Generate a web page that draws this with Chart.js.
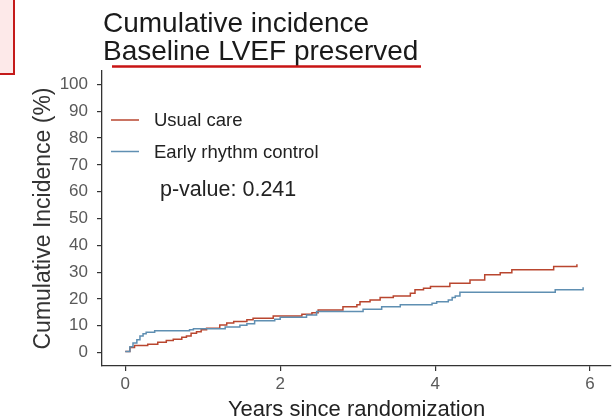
<!DOCTYPE html>
<html>
<head>
<meta charset="utf-8">
<script src="https://cdn.jsdelivr.net/npm/chart.js@4/dist/chart.umd.min.js"></script>
<style>
  html, body { margin: 0; padding: 0; background: #ffffff; }
  #wrap { position: relative; width: 616px; height: 419px; }
</style>
</head>
<body>
<div id="wrap"><canvas id="c" width="616" height="419"></canvas></div>
<script>
// ---- Data ----
const titleLines = ["Cumulative incidence", "Baseline LVEF preserved"];
const seriesNames = ["Usual care", "Early rhythm control"];
const pValueText = "p-value: 0.241";
const xTitle = "Years since randomization";
const yTitle = "Cumulative Incidence (%)";
const xTickValues = [0, 2, 4, 6];
const yTickValues = [0, 10, 20, 30, 40, 50, 60, 70, 80, 90, 100];

// Usual care (step curve: time in years, cumulative incidence %)
const usualCareYears = [0, 0.06, 0.12, 0.29, 0.42, 0.53, 0.62, 0.73, 0.79, 0.85, 0.92, 0.98, 1.05, 1.22, 1.31, 1.40, 1.57, 1.65, 1.91, 2.28, 2.41, 2.49, 2.81, 2.99, 3.03, 3.16, 3.29, 3.46, 3.68, 3.74, 3.85, 3.94, 4.19, 4.45, 4.64, 4.84, 4.99, 5.53, 5.83];
const usualCareValues = [0.4, 1.9, 2.6, 3.1, 3.9, 4.5, 5.0, 5.7, 6.2, 7.2, 7.8, 8.5, 9.1, 10.3, 11.0, 11.6, 12.2, 12.8, 13.6, 14.3, 14.9, 15.9, 17.1, 17.8, 19.0, 19.6, 20.5, 21.1, 22.1, 23.4, 24.0, 24.6, 25.9, 27.1, 29.0, 29.8, 30.9, 32.1, 32.9];

// Early rhythm control
const earlyYears = [0, 0.06, 0.10, 0.15, 0.19, 0.23, 0.27, 0.38, 0.83, 0.88, 1.29, 1.48, 1.57, 1.67, 1.93, 2.00, 2.34, 2.47, 3.07, 3.31, 3.55, 3.96, 4.02, 4.17, 4.22, 4.26, 4.32, 5.55, 5.91];
const earlyValues = [0.4, 2.2, 3.6, 4.8, 6.2, 7.0, 7.6, 8.1, 8.5, 8.9, 9.5, 10.2, 10.8, 11.9, 12.4, 13.2, 14.0, 15.3, 16.2, 17.1, 17.8, 18.4, 19.0, 19.6, 20.5, 21.1, 22.5, 23.4, 24.4];

// ---- Styles ----
const RED = '#b9462f';
const BLUE = '#5f8fb2';
const FONT = "'Liberation Sans', Arial, sans-serif";

function toPoints(xs, ys) { return xs.map((x, i) => ({ x: x, y: ys[i] })); }

const annotations = {
  id: 'annotations',
  beforeDraw(chart) {
    const ctx = chart.ctx;
    ctx.save();
    ctx.fillStyle = '#fde9e9';
    ctx.fillRect(-2, -2, 16, 76);
    ctx.strokeStyle = '#c41a1a';
    ctx.lineWidth = 2;
    ctx.strokeRect(-2, -2, 16, 76);
    ctx.restore();
  },
  afterDraw(chart) {
    const ctx = chart.ctx;
    ctx.save();
    ctx.fillStyle = '#1a1a1a';
    ctx.font = '28px ' + FONT;
    ctx.textAlign = 'left';
    ctx.textBaseline = 'alphabetic';
    ctx.fillText(titleLines[0], 103, 32);
    ctx.fillText(titleLines[1], 103, 60);
    ctx.strokeStyle = '#c81414';
    ctx.lineWidth = 2.5;
    ctx.beginPath();
    ctx.moveTo(112, 66.5);
    ctx.lineTo(421, 66.5);
    ctx.stroke();

    const legendColors = [RED, BLUE];
    const legendY = [120, 151.5];
    ctx.lineWidth = 1.5;
    ctx.font = '18.5px ' + FONT;
    ctx.textBaseline = 'middle';
    for (let i = 0; i < seriesNames.length; i++) {
      ctx.strokeStyle = legendColors[i];
      ctx.beginPath();
      ctx.moveTo(111, legendY[i]);
      ctx.lineTo(139, legendY[i]);
      ctx.stroke();
      ctx.fillStyle = '#222';
      ctx.fillText(seriesNames[i], 154, legendY[i] + 1);
    }
    ctx.font = '21.5px ' + FONT;
    ctx.fillStyle = '#222';
    ctx.fillText(pValueText, 160, 190);
    ctx.restore();
  }
};

new Chart(document.getElementById('c'), {
  type: 'line',
  data: {
    datasets: [
      {
        label: seriesNames[1],
        data: toPoints(earlyYears, earlyValues),
        borderColor: BLUE,
        backgroundColor: BLUE,
        borderWidth: 1.5,
        pointRadius: 0,
        stepped: 'before',
        fill: false
      },
      {
        label: seriesNames[0],
        data: toPoints(usualCareYears, usualCareValues),
        borderColor: RED,
        backgroundColor: RED,
        borderWidth: 1.5,
        pointRadius: 0,
        stepped: 'before',
        fill: false
      }
    ]
  },
  options: {
    responsive: false,
    animation: false,
    devicePixelRatio: 1,
    layout: { padding: { left: 0, top: 71, right: 5, bottom: 0 } },
    plugins: {
      legend: { display: false },
      title: { display: false },
      tooltip: { enabled: false }
    },
    scales: {
      x: {
        type: 'linear',
        min: -0.3,
        max: 6.27,
        afterBuildTicks: (s) => { s.ticks = xTickValues.map(v => ({ value: v })); },
        afterFit: (s) => { s.height = 53; },
        grid: { drawOnChartArea: false, drawTicks: true, tickLength: 5, color: '#333', lineWidth: 1.2 },
        border: { display: true, color: '#333', width: 1.3 },
        ticks: { font: { family: FONT, size: 17 }, color: '#595959', padding: 3, maxRotation: 0 },
        title: { display: true, text: xTitle, font: { family: FONT, size: 22, lineHeight: 0.8 }, color: '#222', padding: 0 }
      },
      y: {
        type: 'linear',
        min: -5,
        max: 105,
        afterBuildTicks: (s) => { s.ticks = yTickValues.map(v => ({ value: v })); },
        afterFit: (s) => { s.width = 102; },
        grid: { drawOnChartArea: false, drawTicks: true, tickLength: 5, color: '#333', lineWidth: 1.2 },
        border: { display: true, color: '#333', width: 1.3 },
        ticks: { font: { family: FONT, size: 17 }, color: '#595959', padding: 9 },
        title: { display: true, text: yTitle, font: { family: FONT, size: 23, lineHeight: 1.2 }, color: '#333', padding: { top: 30, bottom: 0 } }
      }
    }
  },
  plugins: [annotations]
});
</script>
</body>
</html>
